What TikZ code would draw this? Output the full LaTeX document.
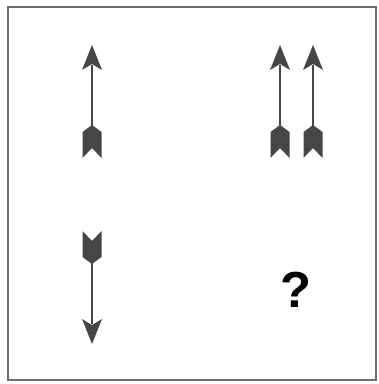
\documentclass[tikz,border=0pt]{standalone}
\usepackage{fontspec}
\setsansfont{Liberation Sans}
\usetikzlibrary{positioning}
\definecolor{arrowgray}{RGB}{70, 70, 70}
\definecolor{framegray}{RGB}{110, 110, 110}
\tikzstyle{shaft} = [draw=arrowgray, line width=1.6]
\tikzstyle{barb} = [fill=arrowgray]
\tikzstyle{frame} = [draw=framegray, line width=1.3]
\tikzset{
  fletched/.pic={
    \draw[shaft] (0,20) -- (0,84);
    \fill[barb] (0,0) -- (10,25) -- (0,19) -- (-10,25) -- cycle;
    \fill[barb] (0,80) -- (9.5,87) -- (9.5,113) -- (0,103) -- (-9.5,113) -- (-9.5,87) -- cycle;
  }
}

\begin{document}
\begin{tikzpicture}[x=0.75pt, y=-0.75pt]
    \useasboundingbox (0,0) rectangle (378,384);
    % Frame
    \draw[frame] (8,7) rectangle (376,380);

    % Arrows
    \pic at (92,45) {fletched};
    \foreach \x in {280,313} {
        \pic at (\x,45) {fletched};
    }
    \pic[rotate=180] at (92,344) {fletched};

    % Missing cell
    \node[font=\sffamily\bfseries\fontsize{38}{40}\selectfont] (quest) at (296,290) {?};
\end{tikzpicture}
\end{document}
